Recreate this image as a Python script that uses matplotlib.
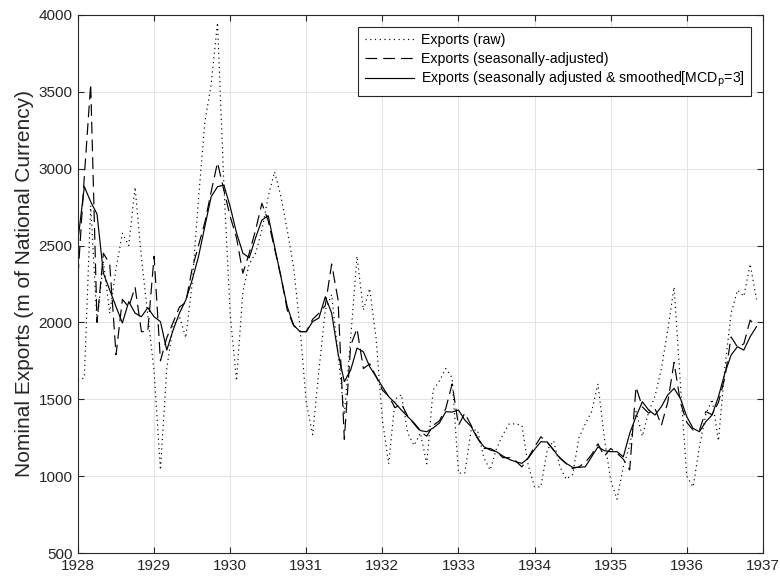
import numpy as np
import matplotlib
matplotlib.use("Agg")
import matplotlib.pyplot as plt

plt.rcParams['font.family'] = ['Liberation Sans', 'DejaVu Sans']

start_year = 1928
raw = [1620, 1640, 2760, 2000, 2400, 2060, 2350, 2580, 2500, 2880, 2420, 2050,
       1680, 1040, 1700, 1980, 2040, 1900, 2250, 2800, 3300, 3550, 3950, 2900,
       2050, 1620, 2200, 2380, 2450, 2600, 2820, 2980, 2820, 2600, 2360, 1970,
       1480, 1270, 1690, 2080, 2180, 1800, 1400, 1900, 2430, 2080, 2220, 1900,
       1365, 1080, 1500, 1530, 1280, 1200, 1280, 1080, 1560, 1620, 1700, 1640,
       1020, 1020, 1300, 1300, 1120, 1040, 1180, 1270, 1340, 1340, 1330, 1070,
       930, 930, 1170, 1230, 1060, 980, 1010, 1250, 1340, 1420, 1600, 1250,
       975, 850, 1060, 1200, 1420, 1260, 1420, 1520, 1700, 1950, 2230, 1600,
       1000, 930, 1190, 1400, 1500, 1230, 1700, 2060, 2210, 2170, 2380, 2150]
seas_adj = [2300, 2950, 3550, 2000, 2450, 2380, 1790, 2150, 2100, 2230, 1940, 1940,
            2430, 1750, 1900, 2000, 2100, 2130, 2350, 2500, 2650, 2850, 3040, 2860,
            2690, 2550, 2320, 2450, 2600, 2775, 2660, 2480, 2300, 2080, 1980, 1940,
            1940, 2020, 2060, 2110, 2380, 2150, 1240, 1850, 1960, 1700, 1730, 1650,
            1560, 1520, 1445, 1470, 1390, 1340, 1290, 1260, 1330, 1360, 1440, 1600,
            1330, 1410, 1330, 1250, 1180, 1180, 1160, 1120, 1120, 1100, 1060, 1120,
            1190, 1256, 1220, 1170, 1120, 1080, 1050, 1060, 1090, 1140, 1210, 1130,
            1180, 1150, 1110, 1040, 1580, 1450, 1410, 1440, 1330, 1480, 1740, 1480,
            1350, 1300, 1300, 1420, 1400, 1480, 1640, 1905, 1840, 1860, 2015, 1970]
smoothed = [2536, 2883, 2785, 2705, 2321, 2211, 2102, 1996, 2135, 2061, 2037, 2096,
            2037, 2005, 1820, 1950, 2061, 2146, 2276, 2428, 2623, 2818, 2883, 2894,
            2753, 2582, 2451, 2420, 2550, 2666, 2694, 2493, 2297, 2102, 1983, 1940,
            1940, 2005, 2029, 2167, 2061, 1801, 1615, 1690, 1833, 1809, 1712, 1647,
            1582, 1517, 1476, 1430, 1387, 1346, 1296, 1289, 1313, 1346, 1419, 1417,
            1430, 1365, 1322, 1246, 1192, 1170, 1159, 1131, 1109, 1094, 1083, 1116,
            1174, 1224, 1222, 1170, 1116, 1083, 1057, 1057, 1061, 1126, 1190, 1166,
            1159, 1159, 1126, 1278, 1387, 1484, 1430, 1398, 1452, 1528, 1571, 1506,
            1387, 1311, 1289, 1354, 1398, 1517, 1669, 1788, 1842, 1820, 1907, 1972]
labels = ['Exports (raw)', 'Exports (seasonally-adjusted)',
          'Exports (seasonally adjusted & smoothed[MCD$_{\\mathrm{p}}$=3]']
x_ticks = list(range(1928, 1938))
y_ticks = list(range(500, 4001, 500))

t = start_year + np.arange(len(raw)) / 12.0

fig = plt.figure(figsize=(7.8, 5.85), dpi=100)
ax = fig.add_axes([0.1, 0.0547, 0.878, 0.9197])

lw = 0.85
l1, = ax.plot(t, raw, color='black', lw=lw, label=labels[0])
l1.set_dashes((1, 3))
l2, = ax.plot(t, seas_adj, color='black', lw=lw, label=labels[1])
l2.set_dashes((10, 5))
l3, = ax.plot(t, smoothed, color='black', lw=lw, label=labels[2])

ax.set_xlim(1928, 1937)
ax.set_ylim(500, 4000)
ax.set_xticks(x_ticks)
ax.set_yticks(y_ticks)
ax.grid(True, color='#e3e3e3', lw=0.7)
ax.set_axisbelow(True)
ax.tick_params(direction='in', top=True, right=True, length=4, width=0.8,
               labelsize=11, color='#262626', labelcolor='#262626', pad=4)
for s in ax.spines.values():
    s.set_color('#262626')
    s.set_linewidth(0.8)
ax.set_ylabel('Nominal Exports (m of National Currency)', fontsize=15,
              color='#262626', labelpad=3)

leg = ax.legend(loc='upper right', bbox_to_anchor=(0.9825, 0.9777), borderaxespad=0,
                fontsize=10.2, frameon=True, fancybox=False, edgecolor='#262626',
                framealpha=1, handlelength=3.5, handletextpad=0.45, borderpad=0.45,
                labelspacing=0.3)
leg.get_frame().set_linewidth(0.8)

fig.savefig('out.png', dpi=100)
